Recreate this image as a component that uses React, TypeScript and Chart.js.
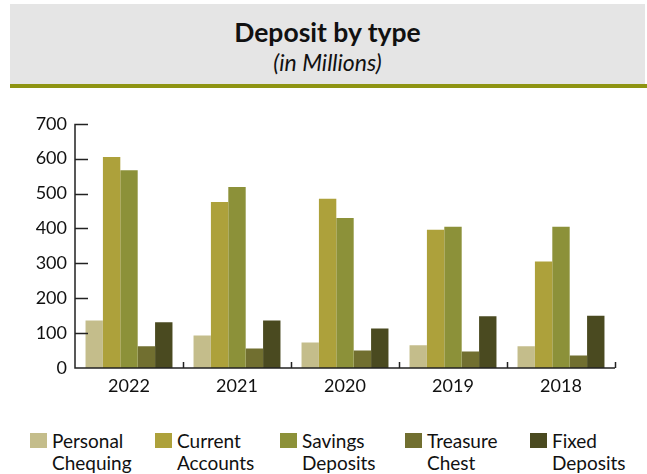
import React, { useEffect, useRef } from "react";
import { Chart, registerables } from "chart.js";

Chart.register(...registerables);

const years = ["2022", "2021", "2020", "2019", "2018"];
const seriesNames = [
  ["Personal", "Chequing"],
  ["Current", "Accounts"],
  ["Savings", "Deposits"],
  ["Treasure", "Chest"],
  ["Fixed", "Deposits"],
];
const personalChequing = [136, 93, 73, 65, 62];
const currentAccounts = [605, 476, 485, 396, 305];
const savingsDeposits = [567, 519, 430, 405, 405];
const treasureChest = [62, 56, 50, 47, 36];
const fixedDeposits = [131, 136, 113, 148, 150];
const seriesValues = [personalChequing, currentAccounts, savingsDeposits, treasureChest, fixedDeposits];
const seriesColors = ["#c4bd8b", "#ada13b", "#8c9139", "#716f30", "#4a4a20"];
const yTicks = [0, 100, 200, 300, 400, 500, 600, 700];

const FONT = "Lato, 'Noto Sans', sans-serif";

const innerTicks = {
  id: "innerTicks",
  afterDatasetsDraw(chart: any) {
    const ctx = chart.ctx;
    const x = chart.scales.x;
    const y = chart.scales.y;
    const area = chart.chartArea;
    ctx.save();
    ctx.strokeStyle = "#222";
    ctx.lineWidth = 1.5;
    ctx.beginPath();
    ctx.moveTo(area.left, y.getPixelForValue(700));
    ctx.lineTo(area.left, area.bottom);
    ctx.lineTo(area.right, area.bottom);
    for (const v of yTicks) {
      if (v === 0) continue;
      const py = Math.round(y.getPixelForValue(v)) + 0.5;
      ctx.moveTo(area.left, py);
      ctx.lineTo(area.left + 13, py);
    }
    const n = chart.data.labels.length;
    for (let i = 1; i <= n; i++) {
      const px = i < n
        ? (x.getPixelForTick(i - 1) + x.getPixelForTick(i)) / 2
        : x.getPixelForTick(n - 1) + (x.getPixelForTick(n - 1) - x.getPixelForTick(n - 2)) / 2;
      const rx = Math.round(px) + 0.5;
      ctx.moveTo(rx, area.bottom);
      ctx.lineTo(rx, area.bottom - 6);
    }
    ctx.stroke();
    ctx.restore();
  },
};

export default function App() {
  const canvasRef = useRef<HTMLCanvasElement | null>(null);

  useEffect(() => {
    document.body.style.margin = "0";
    const canvas = canvasRef.current;
    if (!canvas) return;
    const chart = new Chart(canvas, {
      type: "bar",
      data: {
        labels: years,
        datasets: seriesValues.map((vals, i) => ({
          label: seriesNames[i].join(" "),
          data: vals,
          backgroundColor: seriesColors[i],
          borderWidth: 0,
          categoryPercentage: 0.805,
          barPercentage: 1.0,
        })),
      },
      options: {
        animation: false,
        responsive: false,
        maintainAspectRatio: false,
        layout: { padding: { top: 8, right: 32, left: 0, bottom: 0 } },
        plugins: {
          legend: { display: false },
          tooltip: { enabled: false },
          title: { display: false },
        },
        scales: {
          x: {
            grid: { display: false, drawTicks: false },
            border: { display: false },
            ticks: {
              color: "#111",
              font: { family: FONT, size: 18 },
              padding: 7,
            },
            afterFit(scale: any) {
              scale.height = 42;
            },
          },
          y: {
            min: 0,
            max: 700,
            grid: { display: false, drawTicks: false },
            border: { display: false },
            afterBuildTicks(scale: any) {
              scale.ticks = yTicks.map((v) => ({ value: v }));
            },
            ticks: {
              color: "#111",
              font: { family: FONT, size: 18 },
              padding: 8,
            },
            afterFit(scale: any) {
              scale.width = 75;
            },
          },
        },
      },
      plugins: [innerTicks],
    });
    return () => chart.destroy();
  }, []);

  return (
    <div style={{ position: "relative", width: 647, height: 474, background: "#fff", fontFamily: FONT, overflow: "hidden" }}>
      <div style={{ position: "absolute", left: 10, top: 4, width: 635, height: 80, background: "#e5e5e5" }} />
      <div style={{ position: "absolute", left: 10, top: 84, width: 637, height: 4, background: "#8e9412" }} />
      <div style={{ position: "absolute", left: 10, top: 16, width: 635, textAlign: "center", fontSize: 26.5, fontWeight: 700, color: "#111", lineHeight: "32px" }}>
        Deposit by type
      </div>
      <div style={{ position: "absolute", left: 10, top: 48, width: 635, textAlign: "center", fontSize: 23, fontStyle: "italic", color: "#111", lineHeight: "28px" }}>
        (in Millions)
      </div>
      <canvas ref={canvasRef} width={647} height={305} style={{ position: "absolute", left: 0, top: 105, width: 647, height: 305 }} />
      <div style={{ position: "absolute", left: 30, top: 430, display: "flex" }}>
        {seriesNames.map((name, i) => (
          <div key={i} style={{ width: 125, display: "flex", alignItems: "flex-start" }}>
            <div style={{ width: 17, height: 15, background: seriesColors[i], marginTop: 3, marginRight: 5, flexShrink: 0 }} />
            <div style={{ fontSize: 19, lineHeight: "22px", color: "#111" }}>
              {name[0]}
              <br />
              {name[1]}
            </div>
          </div>
        ))}
      </div>
    </div>
  );
}
